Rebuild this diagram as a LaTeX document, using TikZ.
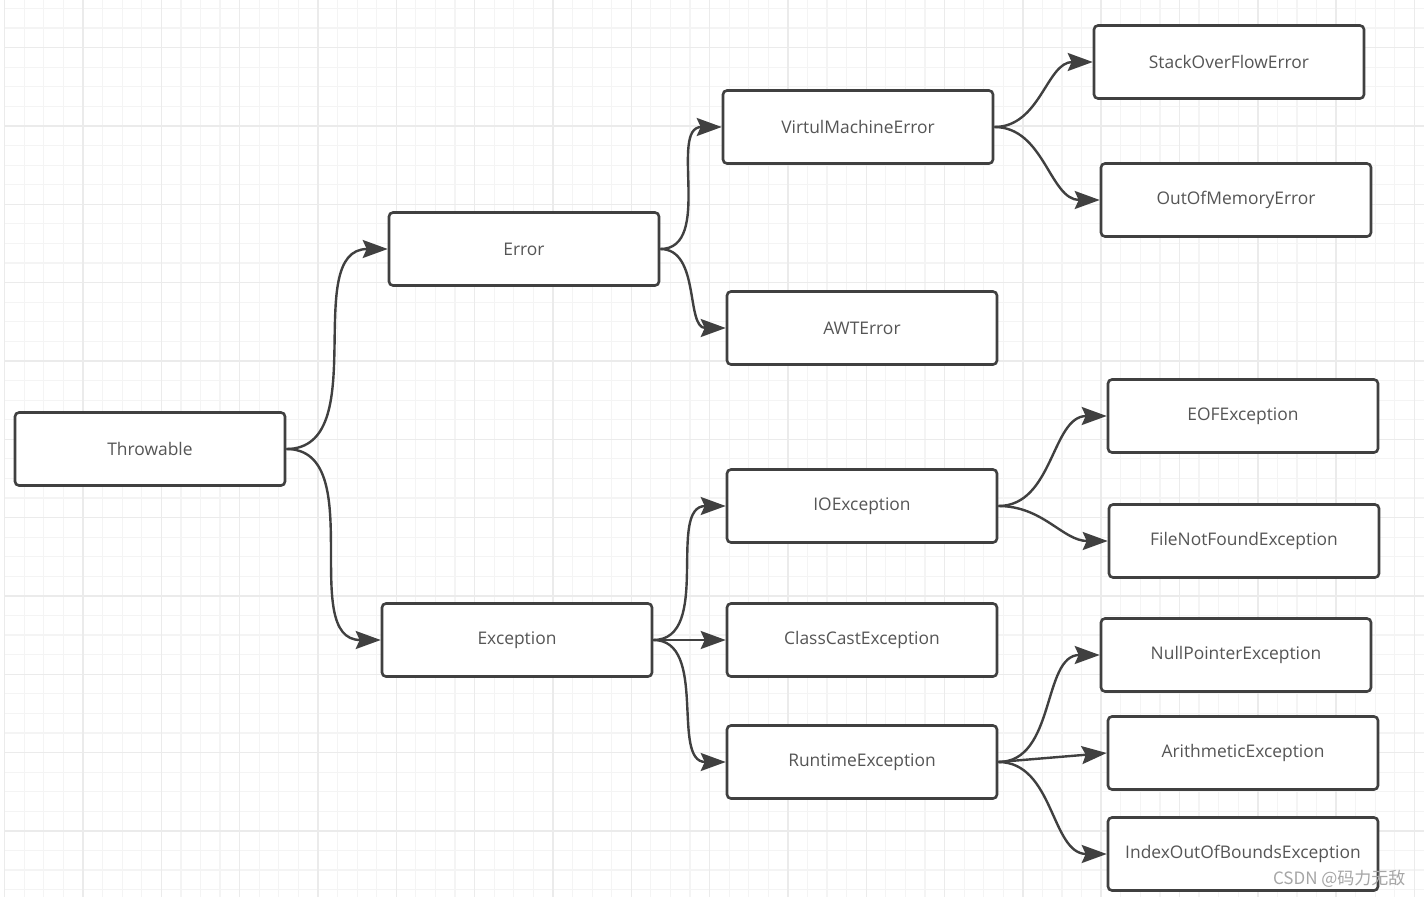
\documentclass[tikz,border=0pt]{standalone}
\usepackage{fontspec}
\setmainfont{Open Sans}
\newfontfamily\cjk{Noto Sans CJK SC}
\usetikzlibrary{arrows.meta}
\definecolor{gridminor}{HTML}{F4F4F4}
\definecolor{gridmajor}{HTML}{EBEBEB}
\definecolor{boxline}{HTML}{404040}
\definecolor{boxtext}{HTML}{555555}

\begin{document}
\begin{tikzpicture}[x=1pt, y=-1pt,
  cls/.style={draw=boxline, line width=2.6pt, rounded corners=4pt, fill=white,
    minimum width=270pt, minimum height=73pt, text=boxtext,
    font=\fontsize{17.4}{20}\selectfont},
  link/.style={draw=boxline, line width=2.4pt,
    -{Stealth[length=25pt,width=18pt,inset=4pt]}}]

  \useasboundingbox[fill=white] (0,0) rectangle (1424,897);

  % background grid
  \foreach \gx in {0,...,72} {
    \draw[gridminor, line width=1.2pt] ({4.7+19.58*\gx},0) -- ({4.7+19.58*\gx},897);
  }
  \foreach \gy in {0,...,45} {
    \draw[gridminor, line width=1.2pt] (4.7,{8.5+19.58*\gy}) -- (1424,{8.5+19.58*\gy});
  }
  \foreach \gx in {0,...,18} {
    \draw[gridmajor, line width=1.4pt] ({4.7+78.32*\gx},0) -- ({4.7+78.32*\gx},897);
  }
  \foreach \gy in {0,...,11} {
    \draw[gridmajor, line width=1.4pt] (4.7,{47.7+78.32*\gy}) -- (1424,{47.7+78.32*\gy});
  }

  % level 0 and 1
  \node[cls] (thr) at (150, 449) {Throwable};
  \node[cls] (err) at (524, 249) {Error};
  \node[cls] (exc) at (517, 640) {Exception};

  % level 2
  \node[cls] (vme) at (858, 127) {VirtulMachineError};
  \node[cls] (awt) at (862, 328) {AWTError};
  \node[cls] (ioe) at (862, 506) {IOException};
  \node[cls] (cce) at (862, 640) {ClassCastException};
  \node[cls] (rte) at (862, 762) {RuntimeException};

  % level 3
  \node[cls] (sof) at (1229, 62) {StackOverFlowError};
  \node[cls] (oom) at (1236, 200) {OutOfMemoryError};
  \node[cls] (eof) at (1243, 416) {EOFException};
  \node[cls] (fnf) at (1244, 541) {FileNotFoundException};
  \node[cls] (npe) at (1236, 655) {NullPointerException};
  \node[cls] (ari) at (1243, 753) {ArithmeticException};
  \node[cls] (ioob) at (1243, 854) {IndexOutOfBoundsException};

  \path (thr.east) edge[link,out=0,in=180] (err.west);
  \path (thr.east) edge[link,out=0,in=180] (exc.west);
  \path (err.east) edge[link,out=0,in=180] (vme.west);
  \path (err.east) edge[link,out=0,in=180] (awt.west);
  \path (vme.east) edge[link,out=0,in=180] (sof.west);
  \path (vme.east) edge[link,out=0,in=180] (oom.west);
  \path (exc.east) edge[link,out=0,in=180] (ioe.west);
  \path (exc.east) edge[link] (cce.west);
  \path (exc.east) edge[link,out=0,in=180] (rte.west);
  \path (ioe.east) edge[link,out=0,in=180] (eof.west);
  \path (ioe.east) edge[link,out=0,in=180] (fnf.west);
  \path (rte.east) edge[link,out=0,in=180] (npe.west);
  \path (rte.east) edge[link] (ari.west);
  \path (rte.east) edge[link,out=0,in=180] (ioob.west);

  % watermark
  \node[text=black!35, font=\cjk\fontsize{17}{19}\selectfont, anchor=east] (mark) at (1409, 879) {CSDN @码力无敌};
\end{tikzpicture}
\end{document}
